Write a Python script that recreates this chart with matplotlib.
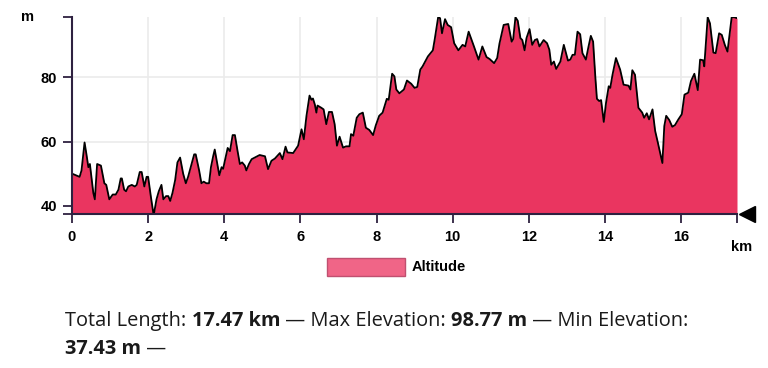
import numpy as np
import matplotlib
matplotlib.use("Agg")
import matplotlib.pyplot as plt
import matplotlib.transforms as mtransforms
from matplotlib.patches import Rectangle

# elevation profile (km, m)
dist_km = [0.0, 0.1, 0.2, 0.25, 0.33, 0.38, 0.43, 0.47, 0.56, 0.6, 0.66, 0.76, 0.85, 0.9, 0.98,
           1.07, 1.15, 1.22, 1.28, 1.31, 1.37, 1.42, 1.48, 1.57, 1.65, 1.7, 1.78, 1.83, 1.9, 1.96,
           2.0, 2.07, 2.14, 2.16, 2.22, 2.28, 2.35, 2.4, 2.47, 2.53, 2.58, 2.64, 2.71, 2.77, 2.84,
           2.92, 2.99, 3.05, 3.14, 3.21, 3.25, 3.34, 3.4, 3.46, 3.53, 3.6, 3.65, 3.71, 3.75, 3.81,
           3.87, 3.93, 3.97, 4.09, 4.15, 4.22, 4.28, 4.35, 4.41, 4.47, 4.54, 4.58, 4.65, 4.72, 4.8,
           4.93, 5.07, 5.15, 5.24, 5.33, 5.46, 5.53, 5.61, 5.66, 5.81, 5.94, 6.03, 6.09, 6.16, 6.24,
           6.29, 6.33, 6.38, 6.42, 6.45, 6.55, 6.61, 6.68, 6.75, 6.83, 6.9, 6.96, 7.03, 7.12, 7.2,
           7.29, 7.33, 7.39, 7.48, 7.55, 7.64, 7.72, 7.81, 7.91, 7.98, 8.07, 8.16, 8.27, 8.32, 8.41,
           8.47, 8.52, 8.6, 8.72, 8.8, 8.91, 9.0, 9.07, 9.15, 9.21, 9.35, 9.48, 9.53, 9.62, 9.67,
           9.72, 9.8, 9.87, 9.96, 10.04, 10.15, 10.26, 10.33, 10.42, 10.5, 10.56, 10.68, 10.78,
           10.89, 10.97, 11.09, 11.17, 11.23, 11.34, 11.46, 11.55, 11.59, 11.65, 11.71, 11.78,
           11.83, 11.89, 11.94, 12.02, 12.09, 12.16, 12.22, 12.28, 12.39, 12.48, 12.54, 12.59,
           12.66, 12.72, 12.83, 12.92, 13.03, 13.09, 13.15, 13.21, 13.28, 13.35, 13.41, 13.5,
           13.57, 13.63, 13.69, 13.75, 13.79, 13.85, 13.9, 13.97, 14.03, 14.1, 14.14, 14.2, 14.29,
           14.4, 14.49, 14.62, 14.67, 14.72, 14.79, 14.88, 14.98, 15.03, 15.1, 15.16, 15.25, 15.32,
           15.39, 15.51, 15.56, 15.61, 15.69, 15.77, 15.84, 15.93, 16.02, 16.09, 16.19, 16.26,
           16.35, 16.44, 16.5, 16.58, 16.61, 16.7, 16.76, 16.85, 16.91, 17.0, 17.07, 17.15, 17.22,
           17.33, 17.4, 17.47]
alt_m = [50, 49.5, 49, 51, 59.7, 56, 52, 53, 44, 42, 53, 52.5, 47, 46.5, 42,
         43.5, 43.5, 45, 48.5, 48.5, 45, 44.5, 46, 46.5, 46, 46.5, 50.5, 50.5, 46, 49,
         49, 43, 37.43, 38, 42, 44.5, 46.5, 42, 43, 43, 41.5, 44, 48, 53.5, 55,
         50, 47, 49, 53, 56, 56, 51, 47, 47.5, 47, 47, 52, 55.5, 57.5, 53.5,
         49.5, 52, 51.5, 58, 57, 62, 62, 57, 53, 53.5, 52.5, 51, 53, 54.5, 55,
         55.8, 55.4, 51.4, 54, 54.7, 56.4, 54.5, 58.4, 56.6, 56.4, 58.7, 63.8, 60.7, 68, 74.3,
         73, 73.4, 71.5, 69, 71.2, 70.5, 70, 65.4, 69.2, 69.2, 65.4, 58.7, 61.5, 58.1, 58.5,
         58.5, 62.3, 61.8, 67.4, 68.5, 69, 64.3, 63.6, 62, 65, 68, 69, 73.3, 73, 81.1,
         80.3, 76.2, 75, 76.2, 79, 78, 76.7, 77, 82.4, 83.4, 86.5, 88.4, 91.9, 98.77, 98.4,
         93.7, 98.1, 96.3, 95.6, 90.6, 88.4, 90.1, 89.6, 94.2, 91.6, 89.6, 85.5, 89.6,
         86.3, 85.7, 84.4, 86, 90.5, 96.3, 96.6, 91.1, 91.9, 98.7, 97.6, 92.2,
         91.6, 88.4, 92.2, 95, 90.1, 91.6, 91.9, 89.6, 91.6, 90.6, 88.6, 83.9,
         84.9, 82.6, 84.9, 90.1, 85.2, 85.5, 87, 87, 94.2, 93.4, 87.5, 85.5,
         89.6, 92.9, 91.1, 79.8, 73.3, 72.6, 72.9, 66.1, 72.1, 77.2, 76.7, 80.8, 86,
         82.4, 77.7, 77.4, 76.2, 82.2, 80.8, 70.5, 69, 67.4, 68.8, 66.9, 70, 63.3,
         59.7, 53.3, 64.8, 68, 66.7, 64.6, 65.1, 66.9, 68.5, 74.6, 75.2, 78.8,
         81.1, 76, 85.5, 85.3, 83.4, 98.7, 96.8, 87.7, 87.5, 93.7, 93.2, 90.1, 88,
         98.7, 98.7, 98.4]

total_len = 17.47
max_elev = 98.77
min_elev = 37.43
x_ticks = [0, 2, 4, 6, 8, 10, 12, 14, 16]
y_ticks = [40, 60, 80]

fill_col = "#EA3560"
axis_col = "#2E2140"
grid_col = "#EBEBEB"

plt.rcParams["font.family"] = ["Liberation Sans", "DejaVu Sans"]

fig = plt.figure(figsize=(7.68, 3.68), dpi=100)
W, H = 768, 368
ax = fig.add_axes([72 / W, 1 - 214 / H, (737 - 72) / W, (214 - 17) / H])

ax.fill_between(dist_km, alt_m, min_elev, color=fill_col, lw=0, zorder=2)
ax.plot(dist_km, alt_m, color="black", lw=1.3, zorder=3)

ax.set_xlim(0, total_len)
ax.set_ylim(min_elev, max_elev)

ax.set_xticks(x_ticks + [total_len])
ax.set_xticklabels([str(t) for t in x_ticks] + [""])
ax.set_yticks([min_elev] + y_ticks + [max_elev])
ax.set_yticklabels([""] + [str(t) for t in y_ticks] + [""])

for t in x_ticks[1:]:
    ax.axvline(t, color=grid_col, lw=1.2, zorder=1)
for t in y_ticks[1:]:
    ax.axhline(t, color=grid_col, lw=1.2, zorder=1)

for s in ["top", "right"]:
    ax.spines[s].set_visible(False)
for s in ["left", "bottom"]:
    ax.spines[s].set_color(axis_col)
    ax.spines[s].set_linewidth(1.5)
    ax.spines[s].set_zorder(4)
ax.tick_params(axis="both", colors=axis_col, width=1.3, length=6.5,
               labelcolor="black", labelsize=10.5)
ax.tick_params(axis="x", pad=5)
ax.tick_params(axis="y", pad=4.3)
for lab in ax.get_xticklabels() + ax.get_yticklabels():
    lab.set_fontweight("bold")

# axis units
fig.text(27 / W, 1 - 17 / H, "m", ha="center", va="center", fontsize=10.5, fontweight="bold")
fig.text(742 / W, 1 - 247 / H, "km", ha="center", va="center", fontsize=10.5, fontweight="bold")

# end marker at the right end of the x axis
off = mtransforms.ScaledTranslation(10 / 100, 0, fig.dpi_scale_trans)
ax.plot([total_len], [min_elev], marker="<", ms=11, color="black", clip_on=False,
        transform=ax.transData + off, zorder=5)

# legend
fig.patches.append(Rectangle((327 / W, 1 - 276 / H), 78 / W, 18 / H, transform=fig.transFigure,
                             facecolor="#F06587", edgecolor="#C05070", lw=1))
fig.text(412 / W, 1 - 267 / H, "Altitude", ha="left", va="center", fontsize=10.5, fontweight="bold")

# summary text with bold values
fig.canvas.draw()
renderer = fig.canvas.get_renderer()


def write_line(parts, x0, y0):
    x = x0
    for txt, bold in parts:
        t = fig.text(x / W, 1 - y0 / H, txt, ha="left", va="center", fontsize=14.4,
                     fontweight="bold" if bold else "normal", family=["Open Sans", "DejaVu Sans"],
                     color="#1a1a1a")
        bb = t.get_window_extent(renderer)
        x += bb.width


write_line([("Total Length: ", False), (f"{total_len:.2f} km", True), (" \u2014 Max Elevation: ", False),
            (f"{max_elev:.2f} m", True), (" \u2014 Min Elevation:", False)], 65, 321)
write_line([(f"{min_elev:.2f} m", True), (" \u2014", False)], 65, 349)

fig.savefig("out.png", dpi=100)
